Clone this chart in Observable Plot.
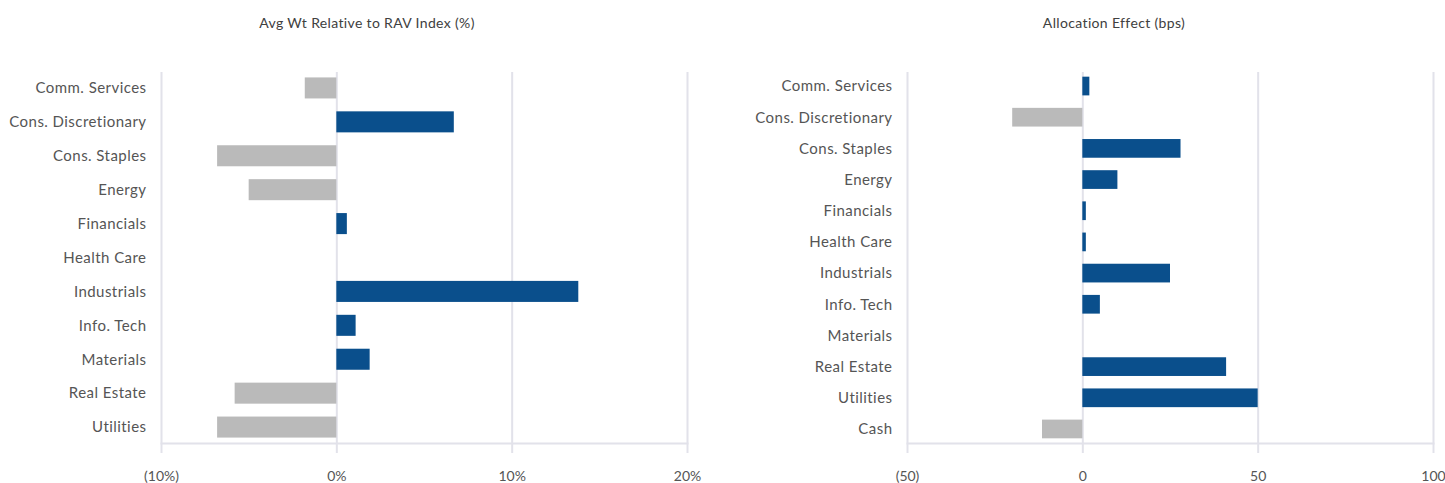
<!DOCTYPE html>
<html>
<head>
<meta charset="utf-8">
<script src="https://cdn.jsdelivr.net/npm/d3@7"></script>
<script src="https://cdn.jsdelivr.net/npm/@observablehq/plot@0.6"></script>
<style>
  body { margin: 0; background: #fff; font-family: Lato, "Noto Sans", sans-serif; }
  #wrap { position: relative; width: 1445px; height: 483px; }
  .title { position: absolute; top: 14px; font-size: 14px; letter-spacing: 0.35px; color: #404040; white-space: nowrap; transform: translateX(-50%); }
  .panel { position: absolute; top: 40px; }
  .panel svg g[aria-label="y-axis tick label"] text { letter-spacing: 0.45px; }
</style>
</head>
<body>
<div id="wrap">
  <div class="title" id="t1" style="left:367px">Avg Wt Relative to RAV Index (%)</div>
  <div class="title" id="t2" style="left:1114px">Allocation Effect (bps)</div>
  <div class="panel" id="p1" style="left:0px"></div>
  <div class="panel" id="p2" style="left:720px"></div>
</div>
<script>
// ---- data ----
const leftCategories = ["Comm. Services","Cons. Discretionary","Cons. Staples","Energy","Financials","Health Care","Industrials","Info. Tech","Materials","Real Estate","Utilities"];
const avgWtRelative = [-1.8, 6.7, -6.8, -5.0, 0.6, 0, 13.8, 1.1, 1.9, -5.8, -6.8];
const leftTicks = [-10, 0, 10, 20];
const leftTickLabels = ["(10%)", "0%", "10%", "20%"];

const rightCategories = ["Comm. Services","Cons. Discretionary","Cons. Staples","Energy","Financials","Health Care","Industrials","Info. Tech","Materials","Real Estate","Utilities","Cash"];
const allocationEffect = [2, -20, 28, 10, 1, 1, 25, 5, 0, 41, 50, -11.5];
const rightTicks = [-50, 0, 50, 100];
const rightTickLabels = ["(50)", "0", "50", "100"];

const BLUE = "#0a4f8c";
const GREY = "#bababa";
const GRID = "#e2e2ea";
const TEXT = "#555555";

function chart({cats, vals, ticks, labels, width, marginLeft, marginRight, paddingInner, paddingOuter}) {
  const data = cats.map((c, i) => ({category: c, value: vals[i]}));
  return Plot.plot({
    width,
    height: 443,
    marginTop: 32,
    marginBottom: 40,
    marginLeft,
    marginRight,
    style: {fontFamily: "Lato, 'Noto Sans', sans-serif", fontSize: "14px", color: TEXT, background: "transparent"},
    x: {domain: [ticks[0], ticks[ticks.length - 1]], label: null},
    y: {domain: cats, paddingInner, paddingOuter, round: false, label: null},
    marks: [
      Plot.gridX(ticks, {stroke: GRID, strokeWidth: 2, strokeOpacity: 1}),
      Plot.frame({anchor: "bottom", stroke: GRID, strokeWidth: 2}),
      Plot.barX(data, {x: "value", y: "category", fill: d => d.value < 0 ? GREY : BLUE}),
      Plot.axisX(ticks, {tickSize: 10, stroke: GRID, strokeWidth: 2, fill: TEXT, tickPadding: 18,
        tickFormat: d => labels[ticks.indexOf(d)], label: null, fontSize: 14}),
      Plot.axisY({tickSize: 0, tickPadding: 15, fill: TEXT, label: null, fontSize: 15})
    ]
  });
}

document.getElementById("p1").append(chart({
  cats: leftCategories, vals: avgWtRelative, ticks: leftTicks, labels: leftTickLabels,
  width: 720, marginLeft: 161, marginRight: 33, paddingInner: 0.38, paddingOuter: 0.16
}));
document.getElementById("p2").append(chart({
  cats: rightCategories, vals: allocationEffect, ticks: rightTicks, labels: rightTickLabels,
  width: 725, marginLeft: 187, marginRight: 12, paddingInner: 0.4, paddingOuter: 0.15
}));
</script>
</body>
</html>
